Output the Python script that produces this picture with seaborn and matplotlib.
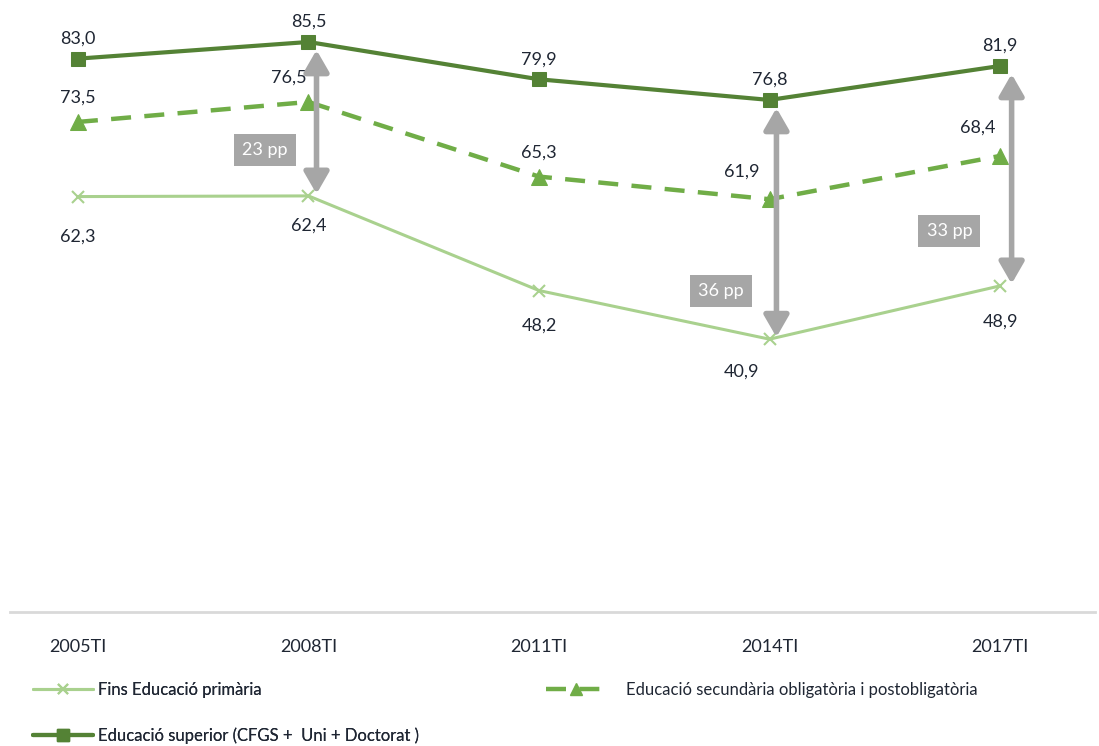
import pandas as pd
import matplotlib.pyplot as plt
import seaborn as sns
from matplotlib.lines import Line2D

# Dades
periodes = ['2005TI', '2008TI', '2011TI', '2014TI', '2017TI']
primaria = [62.3, 62.4, 48.2, 40.9, 48.9]
secundaria = [73.5, 76.5, 65.3, 61.9, 68.4]
superior = [83.0, 85.5, 79.9, 76.8, 81.9]
noms = ['Fins Educació primària',
        'Educació secundària obligatòria i postobligatòria',
        'Educació superior (CFGS +  Uni + Doctorat )']
# diferencies (pp) entre superior i primaria
bretxes = [(1, '23 pp'), (3, '36 pp'), (4, '33 pp')]

C_LIGHT = '#a9d18e'
C_MID = '#70ad47'
C_DARK = '#548235'
C_GRAY = '#a6a6a6'
C_TEXT = '#1f2633'

sns.set_style('white')
plt.rcParams['font.family'] = ['Lato', 'DejaVu Sans']

df = pd.DataFrame({'x': range(len(periodes)), 'primaria': primaria,
                   'secundaria': secundaria, 'superior': superior})

fig = plt.figure(figsize=(10.99, 7.46), dpi=100)
ax = fig.add_axes([0.009, 0.18, 0.987, 0.82])

sns.lineplot(data=df, x='x', y='primaria', ax=ax, color=C_LIGHT, lw=2.2,
             marker='x', markersize=8, markeredgewidth=1.5, markeredgecolor=C_LIGHT)
sns.lineplot(data=df, x='x', y='secundaria', ax=ax, color=C_MID, lw=3.2,
             linestyle=(0, (4.5, 3)), marker='^', markersize=11, markeredgecolor=C_MID)
sns.lineplot(data=df, x='x', y='superior', ax=ax, color=C_DARK, lw=3,
             marker='s', markersize=10, markeredgecolor=C_DARK)

def fmt(v):
    return f'{v:.1f}'.replace('.', ',')

# etiquetes de valors
for i, v in enumerate(superior):
    ax.annotate(fmt(v), (i, v), xytext=(0, 20), textcoords='offset pixels',
                ha='center', va='center', fontsize=13, color=C_TEXT)
sec_off = [(0, 24), (-20, 24), (0, 24), (-28, 28), (-22, 28)]
for i, v in enumerate(secundaria):
    ax.annotate(fmt(v), (i, v), xytext=sec_off[i], textcoords='offset pixels',
                ha='center', va='center', fontsize=13, color=C_TEXT)
pri_off = [(0, -40), (0, -30), (0, -35), (-28, -32), (0, -36)]
for i, v in enumerate(primaria):
    ax.annotate(fmt(v), (i, v), xytext=pri_off[i], textcoords='offset pixels',
                ha='center', va='center', fontsize=13, color=C_TEXT)

# fletxes de bretxa
arrow_dx = {1: 0.035, 3: 0.03, 4: 0.05}
box_pos = {1: (0.81, 69.3), 3: (2.79, 48.1), 4: (3.78, 57.1)}
for i, txt in bretxes:
    xa = i + arrow_dx[i]
    ax.annotate('', xy=(xa, superior[i] - 1.2), xytext=(xa, primaria[i] + 0.3),
                arrowprops=dict(arrowstyle='<|-|>,head_length=1.3,head_width=0.75',
                                color=C_GRAY, lw=4, shrinkA=0, shrinkB=0))
    bx, by = box_pos[i]
    ax.text(bx, by, txt, ha='center', va='center', fontsize=13, color='white',
            bbox=dict(boxstyle='square,pad=0.45', fc=C_GRAY, ec='none'))

ax.set_xlim(-0.295, 4.41)
ax.set_ylim(0, 91.8)
ax.set_xticks(range(len(periodes)))
ax.set_xticklabels(periodes, fontsize=13, color=C_TEXT)
ax.tick_params(axis='x', length=0, pad=20)
ax.set_yticks([])
ax.set_xlabel('')
ax.set_ylabel('')
for s in ['top', 'left', 'right']:
    ax.spines[s].set_visible(False)
ax.spines['bottom'].set_color('#d9d9d9')
ax.spines['bottom'].set_linewidth(2)

# llegenda
h_pri = Line2D([], [], color=C_LIGHT, lw=2.2, marker='x', markersize=7, markeredgewidth=1.5)
h_sec = Line2D([], [], color=C_MID, lw=3.2, linestyle=(0, (4.5, 3)), marker='^', markersize=9)
h_sup = Line2D([], [], color=C_DARK, lw=3, marker='s', markersize=8)
leg1 = fig.legend([h_pri, h_sup], [noms[0], noms[2]], loc='upper left',
                  bbox_to_anchor=(0.03, 0.086), frameon=False, fontsize=12,
                  handlelength=3.6, handletextpad=0.3, labelspacing=1.75,
                  labelcolor=C_TEXT, borderaxespad=0, borderpad=0)
fig.add_artist(leg1)
fig.legend([h_sec], [noms[1]], loc='upper left', bbox_to_anchor=(0.497, 0.086),
           frameon=False, fontsize=12, handlelength=3.6, handletextpad=1.2,
           labelcolor=C_TEXT, borderaxespad=0, borderpad=0)

plt.savefig('out.png', dpi=100)
